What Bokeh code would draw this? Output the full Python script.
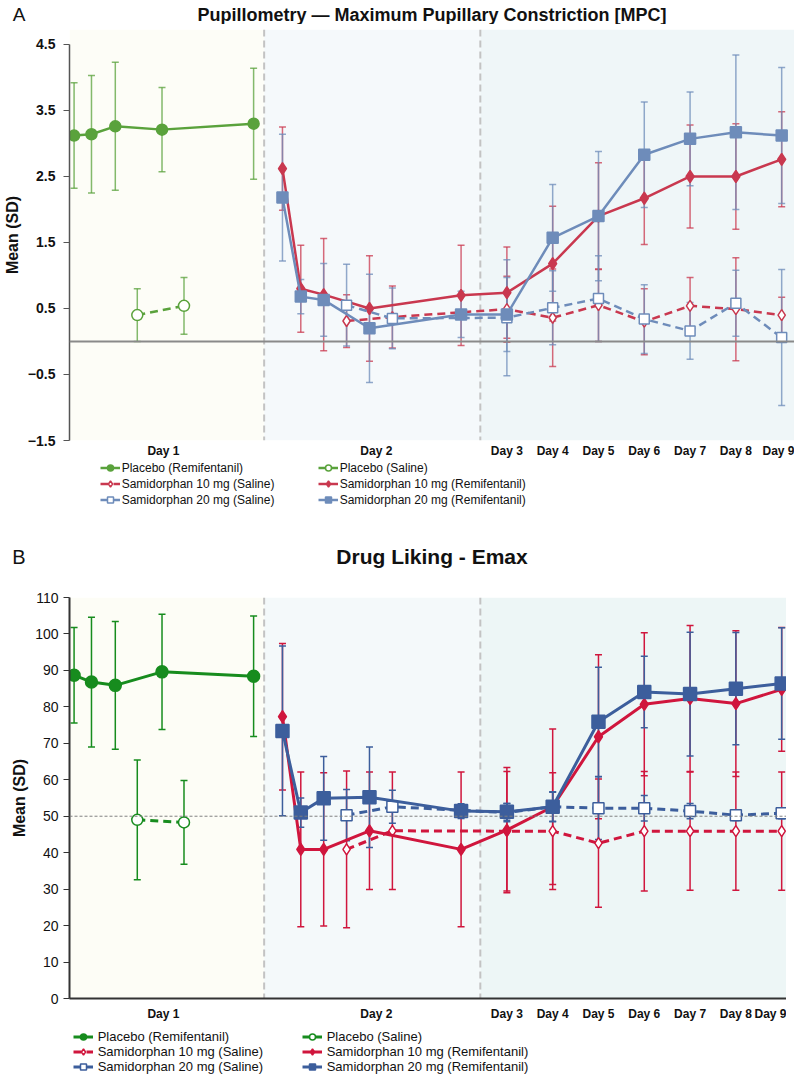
from bokeh.plotting import figure
from bokeh.models import (ColumnDataSource, Whisker, TeeHead, Span, BoxAnnotation,
                          FixedTicker, Legend, LegendItem, Label, Range1d)
from bokeh.layouts import column
from bokeh.embed import file_html
from bokeh.resources import INLINE

FONT = "Liberation Sans"
NAN = float("nan")

# ---------------- shared time axis ----------------
day_labels = ["Day 1", "Day 2", "Day 3", "Day 4", "Day 5", "Day 6", "Day 7", "Day 8", "Day 9"]
day_label_pos = [2.5, 7.15, 10, 11, 12, 13, 14, 15, 16]
period_edges = [0.45, 4.7, 9.42, 16.28]

x_placebo_remi = [0.55, 0.93, 1.45, 2.47, 4.47]
x_placebo_sal = [1.93, 2.95]
x_sam_remi = [5.1, 5.5, 6.0, 7.0, 9.0, 10, 11, 12, 13, 14, 15, 16]
x_sam_sal = [6.5, 7.5, 10, 11, 12, 13, 14, 15, 16]

# ---------------- Panel A: MPC ----------------
mpc_placebo_remi = [3.12, 3.14, 3.26, 3.21, 3.30]
mpc_placebo_remi_sd = [0.80, 0.89, 0.97, 0.64, 0.84]
mpc_placebo_sal = [0.40, 0.54]
mpc_placebo_sal_sd = [0.40, 0.43]
mpc_sam10_remi = [2.62, 0.80, 0.71, 0.50, 0.70, 0.74, 1.18, 1.90, 2.17, 2.50, 2.50, 2.76]
mpc_sam10_remi_sd = [0.63, 0.66, 0.85, 0.80, 0.76, 0.69, 0.87, 0.81, 0.70, 0.78, 0.80, 0.72]
mpc_sam20_remi = [2.18, 0.68, 0.63, 0.20, 0.41, 0.41, 1.57, 1.90, 2.83, 3.07, 3.17, 3.12]
mpc_sam20_remi_sd = [0.96, 0.26, 0.55, 0.82, 0.35, 0.56, 0.81, 0.98, 0.80, 0.71, 1.17, 1.03]
mpc_sam10_sal = [0.31, 0.37, 0.49, 0.36, 0.55, 0.30, 0.54, 0.49, 0.40]
mpc_sam10_sal_sd = [0.40, 0.47, 0.50, 0.74, 0.55, 0.50, 0.43, 0.78, 0.27]
mpc_sam20_sal = [0.55, 0.35, 0.36, 0.51, 0.65, 0.34, 0.16, 0.58, 0.06]
mpc_sam20_sal_sd = [0.62, 0.46, 0.88, 0.56, 0.65, 0.52, 0.43, 0.50, 1.03]
mpc_yticks = [-1.5, -0.5, 0.5, 1.5, 2.5, 3.5, 4.5]

# ---------------- Panel B: Drug liking Emax ----------------
dl_placebo_remi = [88.7, 86.8, 85.9, 89.6, 88.4]
dl_placebo_remi_sd = [13.1, 17.8, 17.5, 15.8, 16.5]
dl_placebo_sal = [49.0, 48.3]
dl_placebo_sal_sd = [16.4, 11.5]
dl_sam10_remi = [77.3, 40.9, 40.9, 46.0, 40.9, 46.2, 52.6, 71.8, 80.7, 82.3, 80.9, 84.8]
dl_sam10_remi_sd = [20.1, 21.2, 21.0, 16.1, 21.2, 17.2, 21.3, 22.5, 19.6, 20.0, 20.0, 17.0]
dl_sam20_remi = [73.4, 51.0, 54.9, 55.2, 51.4, 51.2, 52.6, 75.9, 84.1, 83.5, 85.0, 86.4]
dl_sam20_remi_sd = [23.3, 4.0, 11.5, 13.8, 2.0, 2.3, 4.1, 15.0, 9.8, 17.0, 15.4, 15.3]
dl_sam10_sal = [40.9, 46.0, 45.9, 45.9, 42.6, 45.9, 45.9, 45.9, 45.9]
dl_sam10_sal_sd = [21.5, 16.1, 16.4, 16.0, 17.6, 16.4, 16.2, 16.2, 16.2]
dl_sam20_sal = [50.3, 52.6, 51.0, 52.6, 52.2, 52.2, 51.4, 50.3, 50.8]
dl_sam20_sal_sd = [7.0, 4.5, 2.5, 4.0, 8.6, 3.5, 2.1, 1.5, 1.5]
dl_yticks = [0, 10, 20, 30, 40, 50, 60, 70, 80, 90, 100, 110]

labels = ["Placebo (Remifentanil)", "Placebo (Saline)",
          "Samidorphan 10 mg (Saline)", "Samidorphan 10 mg (Remifentanil)",
          "Samidorphan 20 mg (Saline)", "Samidorphan 20 mg (Remifentanil)"]

FRAME_W = 725
LEFT = 59


def blank(frame_h, top=0):
    p = figure(frame_width=FRAME_W, frame_height=frame_h, x_range=Range1d(0, FRAME_W),
               y_range=Range1d(0, frame_h), output_backend="svg", toolbar_location=None,
               min_border_left=LEFT, min_border_right=0, min_border_top=top, min_border_bottom=0,
               outline_line_color=None, background_fill_color="white")
    p.grid.visible = False
    p.xaxis.visible = False
    return p


def header(frame_h, top, title, title_size, letter, letter_size, letter_standoff):
    p = blank(frame_h, top)
    p.yaxis.ticker = FixedTicker(ticks=[])
    p.yaxis.axis_line_color = None
    p.yaxis.major_tick_line_color = None
    p.yaxis.minor_tick_line_color = None
    p.yaxis.major_tick_out = 0
    p.yaxis.major_label_standoff = 0
    p.yaxis.axis_label = letter
    p.yaxis.axis_label_orientation = "horizontal"
    p.yaxis.axis_label_standoff = letter_standoff
    p.yaxis.axis_label_text_font = FONT
    p.yaxis.axis_label_text_font_style = "normal"
    p.yaxis.axis_label_text_font_size = letter_size
    p.yaxis.axis_label_text_color = "#111111"
    p.add_layout(Label(x=FRAME_W / 2, y=frame_h / 2, text=title, text_align="center",
                       text_baseline="middle", text_font=FONT, text_font_size=title_size,
                       text_font_style="bold", text_color="#111111"))
    return p


def draw_style(p, src, st):
    c = st["color"]
    lr = p.line("x", "m", source=src, line_color=c, line_width=st["lw"],
                line_dash="8 5" if st["dashed"] else "solid")
    sr = p.scatter("x", "m", source=src, marker=st["marker"], size=st["size"], line_color=c,
                   fill_color=c if st["filled"] else "white", line_width=1.5)
    return [lr, sr]


def add_series(p, x, m, sd, st):
    src = ColumnDataSource(dict(x=x, m=m,
                                lo=[a - b for a, b in zip(m, sd)],
                                hi=[a + b for a, b in zip(m, sd)]))
    c, ea = st["color"], st["err_alpha"]
    w = Whisker(source=src, base="x", lower="lo", upper="hi", level="underlay",
                line_color=c, line_width=1.5, line_alpha=ea,
                upper_head=TeeHead(size=7, line_color=c, line_width=1.5, line_alpha=ea),
                lower_head=TeeHead(size=7, line_color=c, line_width=1.5, line_alpha=ea))
    p.add_layout(w)
    draw_style(p, src, st)


def style(color, dashed, marker, filled, size, lw, err_alpha):
    return dict(color=color, dashed=dashed, marker=marker, filled=filled, size=size, lw=lw,
                err_alpha=err_alpha)


def base_panel(yr, yticks, frame_h, top, bottom, shades, bold_ticks, tick_size, tick_standoff,
               xlab_standoff):
    p = figure(frame_width=FRAME_W, frame_height=frame_h,
               x_range=Range1d(period_edges[0], period_edges[-1]),
               y_range=Range1d(*yr),
               output_backend="svg", toolbar_location=None,
               min_border_left=LEFT, min_border_right=0,
               min_border_top=top, min_border_bottom=bottom,
               background_fill_color="white", outline_line_color=None)
    p.grid.visible = False
    for i, c in enumerate(shades):
        p.add_layout(BoxAnnotation(left=period_edges[i], right=period_edges[i + 1],
                                   fill_color=c, fill_alpha=1.0, line_alpha=0, level="underlay"))
    for e in period_edges[1:3]:
        p.add_layout(Span(location=e, dimension="height", line_color="#c3c3c3",
                          line_width=2, line_dash="7 4", level="underlay"))
    p.xaxis.ticker = FixedTicker(ticks=day_label_pos)
    p.xaxis.major_label_overrides = {k: v for k, v in zip(day_label_pos, day_labels)}
    p.xaxis.major_tick_line_color = None
    p.xaxis.minor_tick_line_color = None
    p.xaxis.major_tick_out = 0
    p.xaxis.major_label_standoff = xlab_standoff
    p.xaxis.major_label_text_font = FONT
    p.xaxis.major_label_text_font_style = "bold"
    p.xaxis.major_label_text_font_size = "12px"
    p.xaxis.major_label_text_color = "#111111"
    p.yaxis.ticker = FixedTicker(ticks=yticks)
    p.yaxis.bounds = (yticks[0], yticks[-1])
    p.yaxis.minor_tick_line_color = None
    p.yaxis.major_tick_in = 0
    p.yaxis.major_tick_out = 6
    p.yaxis.major_label_standoff = tick_standoff
    p.yaxis.major_label_text_font = FONT
    p.yaxis.major_label_text_font_size = tick_size
    p.yaxis.major_label_text_font_style = "bold" if bold_ticks else "normal"
    p.yaxis.major_label_text_color = "#111111"
    p.yaxis.axis_label = "Mean (SD)"
    p.yaxis.axis_label_standoff = 4
    p.yaxis.axis_label_text_font = FONT
    p.yaxis.axis_label_text_font_style = "bold"
    p.yaxis.axis_label_text_font_size = "16px"
    p.yaxis.axis_label_text_color = "#111111"
    return p


def legend_panel(frame_h, styles, loc, glyph_w, label_w, font_size, spacing, standoff, lab_h):
    p = blank(frame_h)
    p.yaxis.visible = False
    rends = [draw_style(p, ColumnDataSource(dict(x=[NAN], m=[NAN])), st) for st in styles]
    order = [0, 2, 4, 1, 3, 5]
    items = [LegendItem(label=labels[i], renderers=rends[i]) for i in order]
    leg = Legend(items=items, ncols=2, location=loc, orientation="vertical",
                 glyph_width=glyph_w, glyph_height=lab_h, label_height=lab_h,
                 label_standoff=standoff, label_width=label_w, spacing=spacing,
                 padding=0, margin=0, border_line_color=None, background_fill_alpha=0,
                 label_text_font=FONT, label_text_font_size=font_size,
                 label_text_color="#111111")
    p.add_layout(leg)
    return p


# ---------------- panel A ----------------
hA = header(20, 4, "Pupillometry \u2014 Maximum Pupillary Constriction [MPC]", "18px",
            "A", "19px", 44)

gA, rA, bA = "#5aa23c", "#c9384f", "#6e8cba"
stA = [style(gA, False, "circle", True, 11, 2.5, 0.75),
       style(gA, True, "circle", False, 11, 2.5, 0.75),
       style(rA, True, "diamond", False, 11, 2.5, 0.75),
       style(rA, False, "diamond", True, 12, 2.5, 0.75),
       style(bA, True, "square", False, 10, 2.5, 0.75),
       style(bA, False, "square", True, 11, 2.5, 0.75)]
pA = base_panel((-1.5, 4.727), mpc_yticks, 411, 5, 18,
                ["#fdfdf7", "#f5f9fb", "#eff6f8"], True, "14px", 8, 3)
pA.xaxis.axis_line_color = None
pA.yaxis.axis_line_color = "#555555"
pA.yaxis.axis_line_width = 1.5
pA.yaxis.major_tick_line_color = "#555555"
pA.add_layout(Span(location=0, dimension="width", line_color="#8a8a8a", line_width=2))
add_series(pA, x_placebo_remi, mpc_placebo_remi, mpc_placebo_remi_sd, stA[0])
add_series(pA, x_placebo_sal, mpc_placebo_sal, mpc_placebo_sal_sd, stA[1])
add_series(pA, x_sam_sal, mpc_sam10_sal, mpc_sam10_sal_sd, stA[2])
add_series(pA, x_sam_remi, mpc_sam10_remi, mpc_sam10_remi_sd, stA[3])
add_series(pA, x_sam_sal, mpc_sam20_sal, mpc_sam20_sal_sd, stA[4])
add_series(pA, x_sam_remi, mpc_sam20_remi, mpc_sam20_remi_sd, stA[5])
lA = legend_panel(50, stA, (80, 3), 20, 195, "12px", 1, 2, 15)

# ---------------- panel B ----------------
hB = header(24, 34, "Drug Liking - Emax", "21px", "B", "20px", 44)

gB, rB, bB = "#178c1e", "#d0163d", "#3c5e9c"
stB = [style(gB, False, "circle", True, 12, 3, 1.0),
       style(gB, True, "circle", False, 11, 3, 1.0),
       style(rB, True, "diamond", False, 11, 3, 1.0),
       style(rB, False, "diamond", True, 12, 3, 1.0),
       style(bB, True, "square", False, 11, 3, 1.0),
       style(bB, False, "square", True, 13, 3, 1.0)]
pB = base_panel((0, 110), dl_yticks, 401, 29, 22,
                ["#fdfdf6", "#f4f9fa", "#edf6f6"], False, "14px", 5, 8)
pB.xaxis.axis_line_color = "#333333"
pB.xaxis.axis_line_width = 2
pB.yaxis.axis_line_color = "#333333"
pB.yaxis.axis_line_width = 2
pB.yaxis.major_tick_line_color = "#333333"
pB.add_layout(Span(location=50, dimension="width", line_color="#808080", line_width=1, line_dash="3 2"))
add_series(pB, x_placebo_remi, dl_placebo_remi, dl_placebo_remi_sd, stB[0])
add_series(pB, x_placebo_sal, dl_placebo_sal, dl_placebo_sal_sd, stB[1])
add_series(pB, x_sam_sal, dl_sam10_sal, dl_sam10_sal_sd, stB[2])
add_series(pB, x_sam_remi, dl_sam10_remi, dl_sam10_remi_sd, stB[3])
add_series(pB, x_sam_sal, dl_sam20_sal, dl_sam20_sal_sd, stB[4])
add_series(pB, x_sam_remi, dl_sam20_remi, dl_sam20_remi_sd, stB[5])
lB = legend_panel(51, stB, (53, 0), 20, 204, "13px", 0, 5, 15)

layout = column(hA, pA, lA, hB, pB, lB, spacing=0)
open("out.html", "w").write(file_html(layout, INLINE))
